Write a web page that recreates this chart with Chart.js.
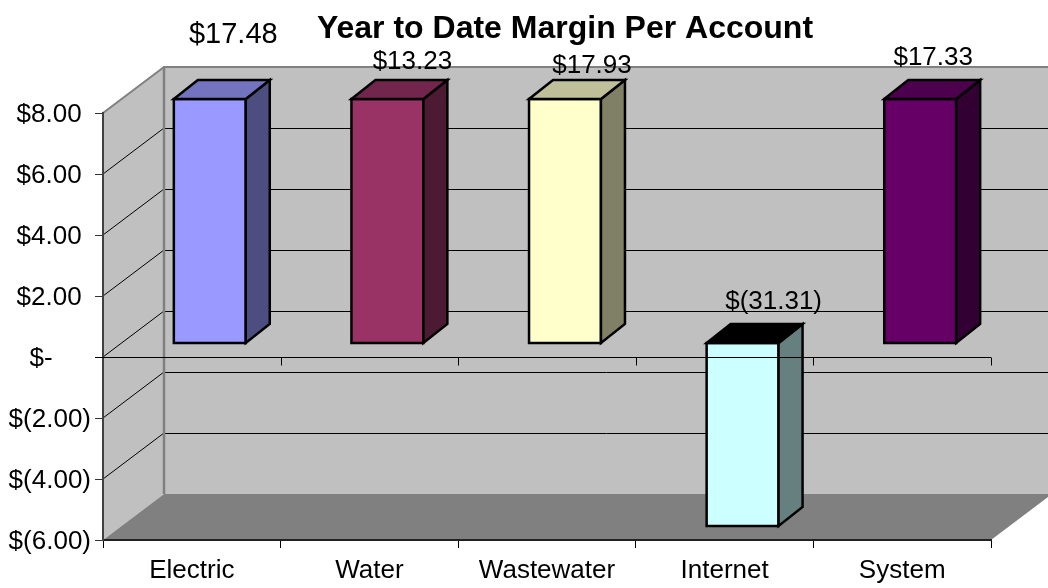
<!DOCTYPE html>
<html>
<head>
<meta charset="utf-8">
<title>Year to Date Margin Per Account</title>
<script src="https://cdn.jsdelivr.net/npm/chart.js@4"></script>
<style>
    html, body { margin: 0; padding: 0; background: #fff; }
    canvas { display: block; }
</style>
</head>
<body>
<canvas id="chart" width="1048" height="588"></canvas>
<script>
const categories = ['Electric', 'Water', 'Wastewater', 'Internet', 'System'];
const margins = [17.48, 13.23, 17.93, -31.31, 17.33];
const valueLabels = ['$17.48', '$13.23', '$17.93', '$(31.31)', '$17.33'];
const yTickLabels = ['$(6.00)', '$(4.00)', '$(2.00)', '$-     \u200A', '$2.00 \u200A', '$4.00 \u200A', '$6.00 \u200A', '$8.00 \u200A'];

const frontColors = ['#9999ff', '#993366', '#ffffcc', '#ccffff', '#660066'];
const topColors = ['#7373bf', '#73264d', '#bfbf99', '#000000', '#4d004d'];
const sideColors = ['#4d4d80', '#4d1a33', '#808066', '#668080', '#330033'];

// 3d look: depth of the walls and where the boxes sit inside that depth
const wallDx = 61, wallDy = -46;
const barDx = 18, barDy = -14;
const boxDx = 24, boxDy = -19;

// the labels in the picture float, offset from the top back of each box
const labelOffsets = [[-0.5, -45], [1, -18], [3, -14], [7, -22], [-11, -22]];
const labelFonts = [29, 26, 26, 26, 26];

function poly(ctx, pts, fill, stroke, lw) {
    ctx.beginPath();
    pts.forEach((p, i) => i ? ctx.lineTo(p[0], p[1]) : ctx.moveTo(p[0], p[1]));
    ctx.closePath();
    if (fill) { ctx.fillStyle = fill; ctx.fill(); }
    if (stroke) { ctx.strokeStyle = stroke; ctx.lineWidth = lw; ctx.lineJoin = 'miter'; ctx.stroke(); }
}

function line(ctx, x0, y0, x1, y1, color, lw) {
    ctx.beginPath();
    ctx.moveTo(x0, y0);
    ctx.lineTo(x1, y1);
    ctx.strokeStyle = color;
    ctx.lineWidth = lw;
    ctx.stroke();
}

function clampToAxis(y, v) {
    return Math.max(y.min, Math.min(y.max, v));
}

const walls = {
    id: 'walls',
    afterLayout(chart) {
        // title is centred over the plot side of the picture
        chart.titleBlock.left = 82;
        chart.titleBlock.right = 1048;
    },
    beforeDraw(chart) {
        const ctx = chart.ctx, x = chart.scales.x, y = chart.scales.y;
        const l = x.left, r = x.right, t = y.top, b = y.bottom;
        ctx.save();
        poly(ctx, [[l, t], [l + wallDx, t + wallDy], [l + wallDx, b + wallDy], [l, b]], '#c0c0c0');
        poly(ctx, [[l + wallDx, t + wallDy], [r + wallDx, t + wallDy], [r + wallDx, b + wallDy], [l + wallDx, b + wallDy]], '#c0c0c0');
        poly(ctx, [[l, b], [l + wallDx, b + wallDy], [r + wallDx, b + wallDy], [r, b]], '#808080');

        y.ticks.forEach(tick => {
            if (tick.value === y.min || tick.value === y.max) return;
            const py = y.getPixelForValue(tick.value);
            line(ctx, l, py, l + wallDx, py + wallDy, '#000', 1);
            line(ctx, l + wallDx, Math.round(py + wallDy) + 0.5, r + wallDx, Math.round(py + wallDy) + 0.5, '#000', 1);
        });

        line(ctx, l, t, l + wallDx, t + wallDy, '#808080', 2);
        line(ctx, l + wallDx - 1, t + wallDy, r + wallDx, t + wallDy, '#808080', 2);
        line(ctx, l + wallDx, t + wallDy, l + wallDx, b + wallDy, '#808080', 2.5);
        ctx.restore();
    },
    beforeDatasetDraw(chart) {
        // push the front faces back into the box
        chart.ctx.save();
        chart.ctx.translate(barDx, barDy);
    },
    afterDatasetDraw(chart) {
        chart.ctx.restore();
        const ctx = chart.ctx, y = chart.scales.y;
        ctx.save();
        chart.getDatasetMeta(0).data.forEach((bar, i) => {
            const v = clampToAxis(y, margins[i]);
            const x0 = bar.x - bar.width / 2 + barDx, x1 = x0 + bar.width;
            const yTop = y.getPixelForValue(Math.max(v, 0)) + barDy;
            const yBot = y.getPixelForValue(Math.min(v, 0)) + barDy;
            poly(ctx, [[x0, yTop], [x1, yTop], [x1, yBot], [x0, yBot]], null, '#000', 2.5);
            poly(ctx, [[x1, yTop], [x1 + boxDx, yTop + boxDy], [x1 + boxDx, yBot + boxDy], [x1, yBot]], sideColors[i], '#000', 2.5);
            poly(ctx, [[x0, yTop], [x0 + boxDx, yTop + boxDy], [x1 + boxDx, yTop + boxDy], [x1, yTop]], topColors[i], '#000', 2.5);
        });
        ctx.restore();
    },
    afterDatasetsDraw(chart) {
        const ctx = chart.ctx, x = chart.scales.x, y = chart.scales.y;
        const zero = Math.round(y.getPixelForValue(0)) + 0.5;
        ctx.save();
        // front zero line with its own ticks, runs over the boxes
        line(ctx, x.left - 8, zero, x.right, zero, '#000', 1);
        categories.forEach((c, i) => {
            const px = Math.round(x.left + (i + 1) * x.width / categories.length) + 0.5;
            line(ctx, px, zero, px, zero + 8, '#000', 1);
        });
        // value labels
        ctx.fillStyle = '#000';
        ctx.textAlign = 'center';
        ctx.textBaseline = 'middle';
        chart.getDatasetMeta(0).data.forEach((bar, i) => {
            const v = clampToAxis(y, margins[i]);
            const top = y.getPixelForValue(Math.max(v, 0)) + barDy + boxDy;
            ctx.font = labelFonts[i] + 'px "Liberation Sans"';
            ctx.fillText(valueLabels[i], bar.x + barDx + boxDx + labelOffsets[i][0], top + labelOffsets[i][1]);
        });
        ctx.restore();
    }
};

const ctx = document.getElementById('chart');

const chart = new Chart(ctx, {
    type: 'bar',
    data: {
        labels: categories,
        datasets: [{
            label: 'Margin per account',
            data: margins,
            backgroundColor: frontColors,
            borderWidth: 0,
            categoryPercentage: 1,
            barPercentage: 0.405,
            clip: 0
        }]
    },
    options: {
        responsive: false,
        animation: false,
        layout: {
            padding: { left: 0, right: 57, top: 0, bottom: 0 }
        },
        plugins: {
            legend: { display: false },
            tooltip: { enabled: false },
            title: {
                display: true,
                text: 'Year to Date Margin Per Account',
                color: '#000',
                font: { family: '"Liberation Sans"', size: 32, weight: 'bold', lineHeight: 1.2 },
                padding: { top: 10, bottom: 64.6 }
            }
        },
        scales: {
            x: {
                afterFit(scale) { scale.height = 48; },
                grid: { drawOnChartArea: false, tickLength: 8, color: '#000', tickWidth: 1 },
                border: { color: '#222', width: 2 },
                ticks: {
                    color: '#000',
                    padding: 7,
                    maxRotation: 0,
                    font: { family: '"Liberation Sans"', size: 26 }
                }
            },
            y: {
                min: -6,
                max: 8,
                afterFit(scale) { scale.width = 103; },
                grid: { drawOnChartArea: false, tickLength: 8, color: '#333', tickWidth: 1 },
                border: { color: '#404040', width: 2 },
                ticks: {
                    stepSize: 2,
                    autoSkip: false,
                    color: '#000',
                    padding: 4,
                    labelOffset: 2,
                    font: { family: '"Liberation Sans"', size: 26 },
                    callback: (value, index) => yTickLabels[index]
                }
            }
        }
    },
    plugins: [walls]
});
</script>
</body>
</html>
